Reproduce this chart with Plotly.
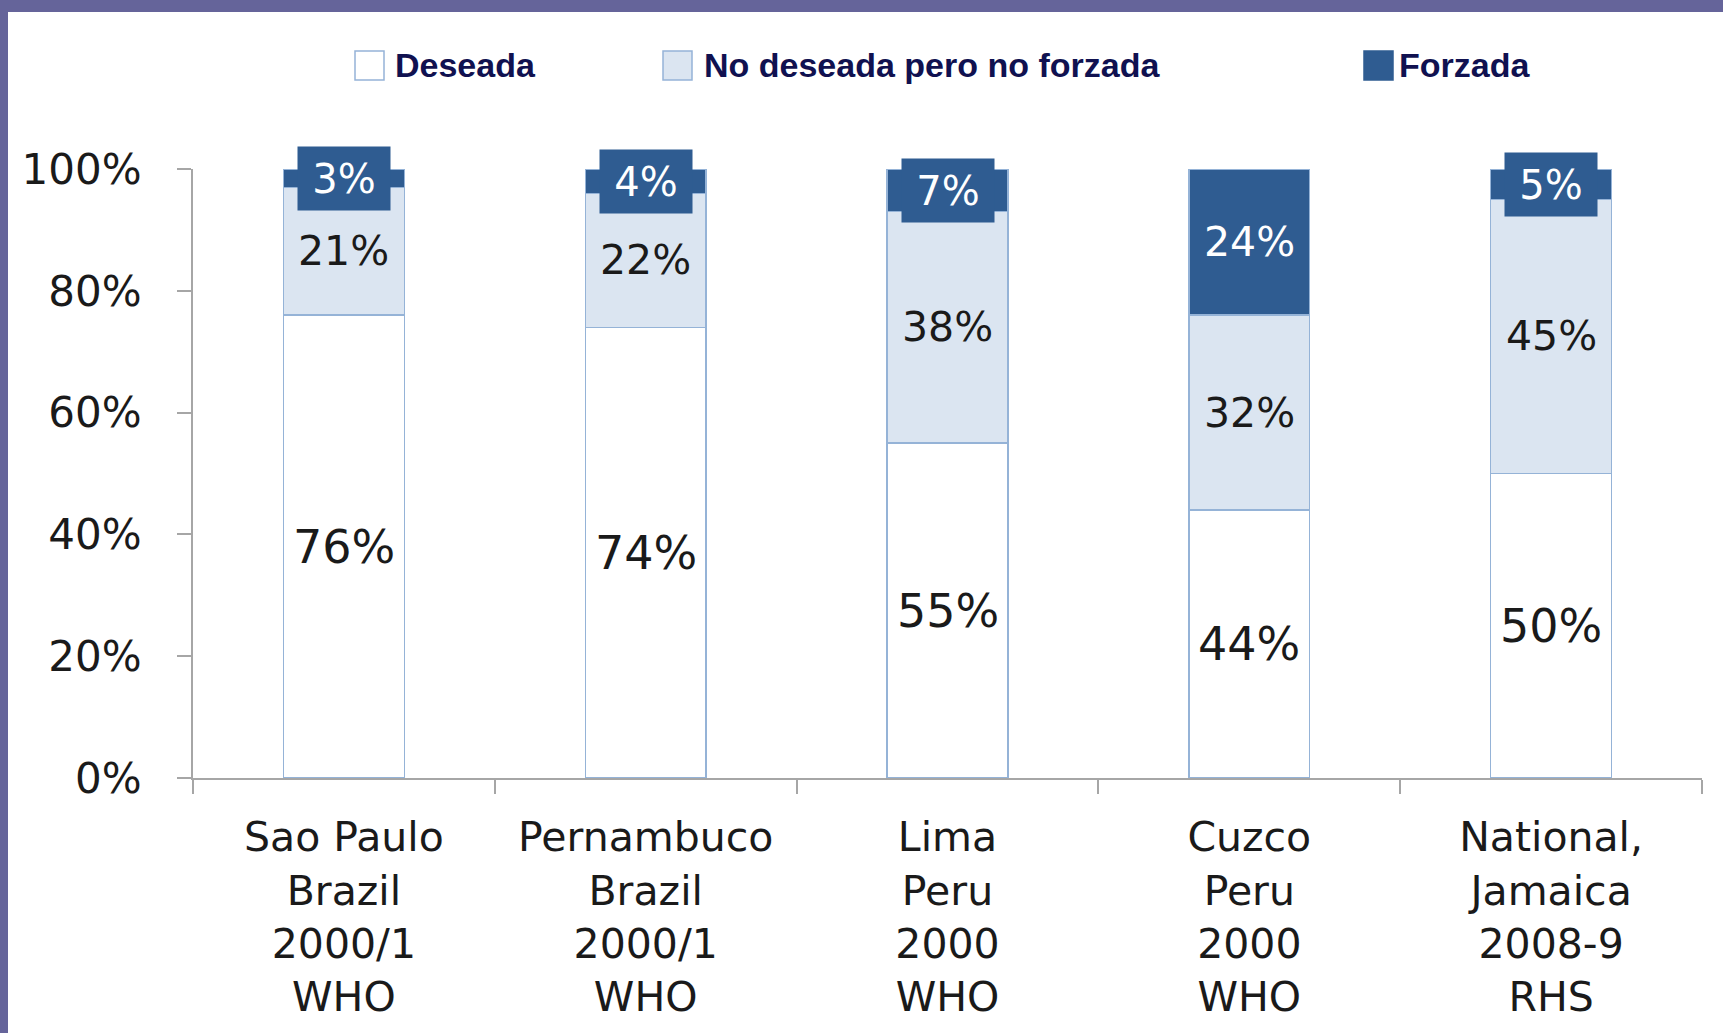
import plotly.graph_objects as go

# ---- data ----
categories = ["Sao Paulo<br>Brazil<br>2000/1<br>WHO",
              "Pernambuco<br>Brazil<br>2000/1<br>WHO",
              "Lima<br>Peru<br>2000<br>WHO",
              "Cuzco<br>Peru<br>2000<br>WHO",
              "National,<br>Jamaica<br>2008-9<br>RHS"]
deseada = [76, 74, 55, 44, 50]
no_deseada = [21, 22, 38, 32, 45]
forzada = [3, 4, 7, 24, 5]
series_names = ["Deseada", "No deseada pero no forzada", "Forzada"]
y_tick_vals = [0, 20, 40, 60, 80, 100]
y_tick_text = ["0%", "20%", "40%", "60%", "80%", "100%"]

# ---- style ----
W, H = 1723, 1033
L, R, T, B = 193, 21, 169, 255
PW, PH = W - L - R, H - T - B
C_DARK = "#2F5C91"
C_LIGHT = "#DBE5F1"
C_WHITE = "#FFFFFF"
C_EDGE = "#95B3D7"
C_AXIS = "#A6A6A6"
C_TEXT = "#1A1A1A"
C_LEG = "#101150"
C_BORDER = "#65649A"
FONT = "DejaVu Sans"


def px_x(px):
    return (px - L) / PW


def px_y(py):
    return (H - B - py) / PH


fig = go.Figure()
fills = [C_WHITE, C_LIGHT, C_DARK]
for name, vals, col in zip(series_names, [deseada, no_deseada, forzada], fills):
    fig.add_trace(go.Bar(
        x=categories, y=vals, name=name,
        marker=dict(color=col, line=dict(color=C_EDGE, width=1.5)),
        showlegend=False, hoverinfo="skip",
    ))

annotations = []
for i, cat in enumerate(categories):
    d, n, f = deseada[i], no_deseada[i], forzada[i]
    annotations.append(dict(x=cat, y=d / 2, xref="x", yref="y", text=f"{d}%",
                            showarrow=False, font=dict(family=FONT, size=46, color=C_TEXT)))
    annotations.append(dict(x=cat, y=d + n / 2, xref="x", yref="y", text=f"{n}%",
                            showarrow=False, font=dict(family=FONT, size=41, color=C_TEXT)))
    if f < 10:
        annotations.append(dict(x=cat, y=d + n + f / 2, xref="x", yref="y", text=f"{f}%",
                                showarrow=False, bgcolor=C_DARK, width=90, height=61,
                                font=dict(family=FONT, size=40, color="white")))
    else:
        annotations.append(dict(x=cat, y=d + n + f / 2, xref="x", yref="y", text=f"{f}%",
                                showarrow=False, font=dict(family=FONT, size=41, color="white")))

# manual legend
shapes = []
leg_items = [(355, 393, C_WHITE), (663, 702, C_LIGHT), (1364, 1397, C_DARK)]
for (bx, tx, col), name in zip(leg_items, series_names):
    shapes.append(dict(type="rect", xref="paper", yref="paper",
                       x0=px_x(bx), x1=px_x(bx + 29), y0=px_y(80), y1=px_y(51),
                       fillcolor=col, line=dict(color=C_EDGE if col != C_DARK else C_DARK, width=1.5)))
    annotations.append(dict(x=px_x(tx), y=px_y(65), xref="paper", yref="paper",
                            xanchor="left", yanchor="middle", text=name, showarrow=False,
                            font=dict(family="Liberation Sans", size=34, color=C_LEG, weight="bold")))

# purple frame (left and top)
shapes.append(dict(type="rect", xref="paper", yref="paper", layer="above",
                   x0=px_x(0), x1=px_x(8), y0=px_y(H), y1=px_y(0),
                   fillcolor=C_BORDER, line=dict(width=0)))
shapes.append(dict(type="rect", xref="paper", yref="paper", layer="above",
                   x0=px_x(0), x1=px_x(W), y0=px_y(12), y1=px_y(0),
                   fillcolor=C_BORDER, line=dict(width=0)))

fig.update_layout(
    width=W, height=H,
    margin=dict(l=L, r=R, t=T, b=B, pad=0),
    barmode="stack", bargap=0.6,
    paper_bgcolor="white", plot_bgcolor="white",
    annotations=annotations, shapes=shapes,
    showlegend=False,
    xaxis=dict(
        showline=True, linecolor=C_AXIS, linewidth=2,
        ticks="outside", tickson="boundaries", ticklen=14, tickcolor=C_AXIS, tickwidth=2,
        ticklabelstandoff=22,
        tickfont=dict(family=FONT, size=41, color=C_TEXT),
        showgrid=False, zeroline=False, fixedrange=True,
    ),
    yaxis=dict(
        range=[0, 100], tickvals=y_tick_vals, ticktext=y_tick_text,
        showline=True, linecolor=C_AXIS, linewidth=2,
        ticks="outside", ticklen=14, tickcolor=C_AXIS, tickwidth=2,
        ticklabelstandoff=27,
        tickfont=dict(family=FONT, size=42, color=C_TEXT),
        showgrid=False, zeroline=False, fixedrange=True,
    ),
)

fig.write_html("out.html", config={"displayModeBar": False},
               post_script="document.body.style.margin='0';document.body.style.overflow='hidden';")
